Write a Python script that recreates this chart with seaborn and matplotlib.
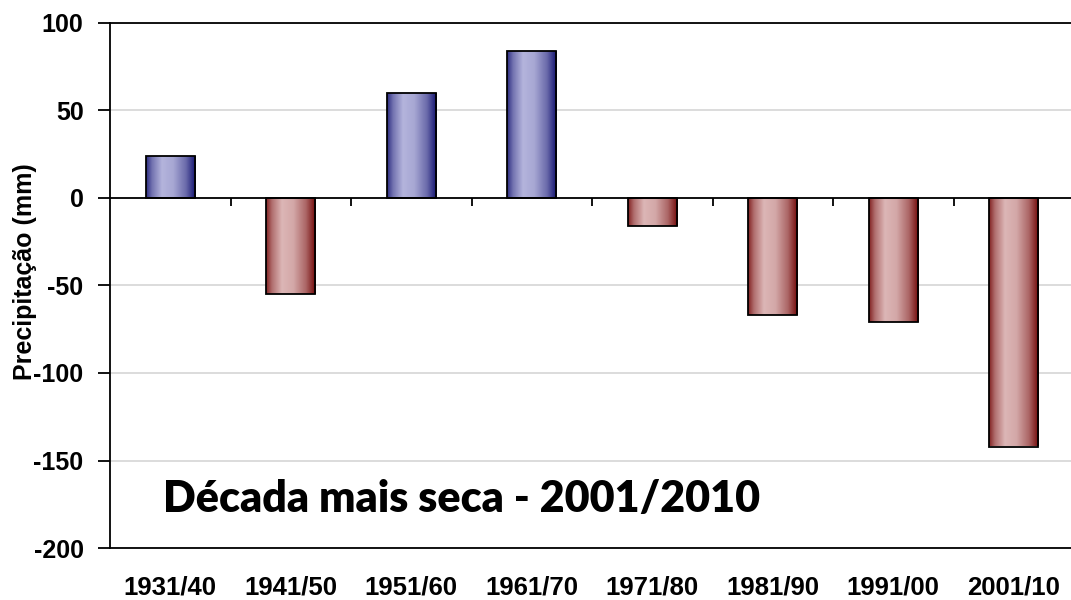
"""
Precipitation anomaly per decade, bars shaded like cylinders (blue above
zero, red below), with a note on the driest decade.
"""

import numpy as np
import pandas as pd
import matplotlib.pyplot as plt
from matplotlib.colors import to_rgb
import seaborn as sns

# data
DECADES = ['1931/40', '1941/50', '1951/60', '1961/70',
           '1971/80', '1981/90', '1991/00', '2001/10']
PRECIP = [24, -55, 60, 84, -16, -67, -71, -142]
Y_TICKS = [100, 50, 0, -50, -100, -150, -200]
Y_LABEL = 'Precipitação (mm)'
NOTE = 'Década mais seca - 2001/2010'

# colours (dark edge, light centre)
BLUE = ('#10106e', '#b4b4dc')
RED = ('#700404', '#dcb6b6')


def shade_bar(ax, patch, dark, light):
    # fill one bar with a left-to-right cylinder gradient
    x0, w = patch.get_x(), patch.get_width()
    y0, h = patch.get_y(), patch.get_height()
    t = np.linspace(0, 1, 256)
    k = np.interp(t, [0, .05, .12, .32, .55, .8, .93, 1],
                  [.15, .35, .6, 1, .92, .55, .2, 0])
    dark, light = np.array(to_rgb(dark)), np.array(to_rgb(light))
    row = dark + k[:, None] * (light - dark)
    img = np.tile(row[None], (2, 1, 1))
    im = ax.imshow(img, extent=[x0, x0 + w, min(y0, y0 + h), max(y0, y0 + h)],
                   aspect='auto', interpolation='bilinear', zorder=2)
    im.set_clip_path(patch)
    patch.set_facecolor('none')
    patch.set_zorder(3)


def main():
    sns.set_theme(style='white')
    plt.rcParams['font.family'] = ['Liberation Sans', 'DejaVu Sans']
    plt.rcParams['font.weight'] = 'bold'
    plt.rcParams['text.color'] = 'black'
    plt.rcParams['axes.labelcolor'] = 'black'
    plt.rcParams['axes.unicode_minus'] = False

    df = pd.DataFrame({'decada': DECADES, 'precip': PRECIP})
    df['sinal'] = np.where(df['precip'] >= 0, 'pos', 'neg')

    fig = plt.figure(figsize=(10.71, 6), dpi=100)
    ax = fig.add_axes([110 / 1071, 52 / 600, 964 / 1071, 525 / 600])

    sns.barplot(data=df, x='decada', y='precip', hue='sinal',
                palette={'pos': BLUE[1], 'neg': RED[1]}, dodge=False,
                width=0.41, legend=False, edgecolor='black', linewidth=1.3,
                ax=ax)

    # shade by sign of each bar (hue groups reorder the patches)
    for patch in list(ax.patches):
        dark, light = BLUE if patch.get_y() + patch.get_height() > 0 else RED
        shade_bar(ax, patch, dark, light)

    # axes
    ax.set_xlim(-0.5, len(DECADES) - 0.5)
    ax.set_ylim(Y_TICKS[-1], Y_TICKS[0])
    ax.set_yticks(Y_TICKS)
    ax.set_xlabel('')
    ax.set_ylabel(Y_LABEL, fontsize=18, fontweight='bold')
    ax.yaxis.set_label_coords(-0.076, 0.526)
    ax.set_axisbelow(True)
    ax.yaxis.grid(True, color='#d9d9d9', lw=1.3)
    ax.xaxis.grid(False)
    for side in ['left', 'top', 'bottom', 'right']:
        ax.spines[side].set_color('black')
        ax.spines[side].set_linewidth(1.3)
    ax.tick_params(axis='y', direction='out', length=9, width=1.3, pad=10,
                   labelsize=18, colors='black', left=True)
    ax.tick_params(axis='x', length=0, pad=20, labelsize=18.5, colors='black')

    # zero line with category separators
    ax.axhline(0, color='black', lw=1.3, zorder=2.5)
    ax.vlines(np.arange(len(DECADES)) + 0.5, 0, -4.6, color='black', lw=1.3)

    # note
    ax.text(0.055, 0.093, NOTE, transform=ax.transAxes, ha='left',
            va='center', fontsize=31, fontweight='heavy', color='black',
            family=['Lato', 'DejaVu Sans'])

    fig.savefig('out.png', dpi=100)
    plt.close('all')


if __name__ == "__main__":
    main()
